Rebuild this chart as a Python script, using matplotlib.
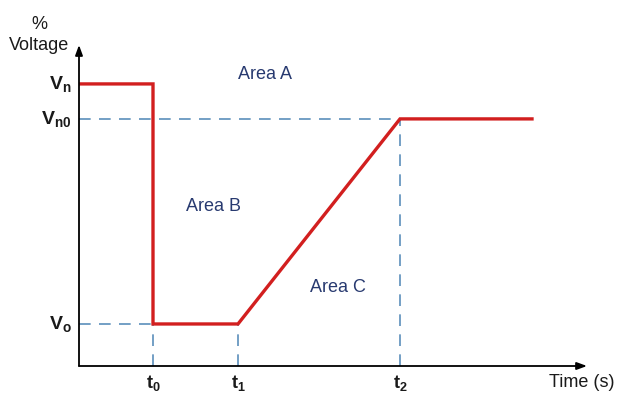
import matplotlib
matplotlib.use("Agg")
import matplotlib.pyplot as plt

plt.rcParams['font.family'] = ['Liberation Sans', 'DejaVu Sans']
plt.rcParams['mathtext.fontset'] = 'custom'
plt.rcParams['mathtext.bf'] = 'Liberation Sans:bold'
plt.rcParams['mathtext.rm'] = 'Liberation Sans'

# time instants (arbitrary units) and voltage levels (% of nominal)
t_start, t0, t1, t2, t_end = 0.0, 7.4, 15.9, 32.1, 45.3
v_n, v_n0, v_o = 100.0, 87.6, 14.9

profile_t = [t_start, t0, t0, t1, t2, t_end]
profile_v = [v_n, v_n, v_o, v_o, v_n0, v_n0]

x_ticks = [t0, t1, t2]
x_labels = [r'$\mathbf{t_0}$', r'$\mathbf{t_1}$', r'$\mathbf{t_2}$']
y_ticks = [v_n, v_n0, v_o]
y_labels = [r'$\mathbf{V_n}$', r'$\mathbf{V_{n0}}$', r'$\mathbf{V_o}$']

areas = ['Area A', 'Area B', 'Area C']
area_pos = [(18.6, 103.5), (13.4, 56.4), (25.9, 28.0)]

x_max, y_max = 50.8, 113.8

fig = plt.figure(figsize=(6.19, 3.94), dpi=100)
ax = fig.add_axes([79 / 619, 28 / 394, 508 / 619, 321 / 394])
ax.set_xlim(0, x_max)
ax.set_ylim(0, y_max)
ax.axis('off')

dash_col = '#5b8fbb'
dash = dict(color=dash_col, lw=1.2, dashes=(7, 5))
# guide lines
ax.plot([0, t2], [v_n0, v_n0], **dash)
ax.plot([0, t0], [v_o, v_o], **dash)
for t, v in [(t0, v_o), (t1, v_o), (t2, v_n0)]:
    ax.plot([t, t], [0, v], **dash)

# voltage profile
ax.plot(profile_t, profile_v, color='#d21f1f', lw=2.4, solid_joinstyle='miter', zorder=3)

# axes with arrows
arrow = dict(arrowstyle='-|>,head_length=0.6,head_width=0.22', color='black', lw=1.3,
             shrinkA=0, shrinkB=0)
ax.annotate('', xy=(x_max, 0), xytext=(0, 0), arrowprops=arrow, annotation_clip=False)
ax.annotate('', xy=(0, y_max), xytext=(0, 0), arrowprops=arrow, annotation_clip=False)

text_col = '#1a1a1a'
for t, lab in zip(x_ticks, x_labels):
    ax.text(t, -6.0, lab, ha='center', va='center', fontsize=13, color=text_col, clip_on=False)
for v, lab in zip(y_ticks, y_labels):
    ax.text(-0.7, v, lab, ha='right', va='center', fontsize=14, color=text_col, clip_on=False)

ax.text(-4.0, 117.2, '%\nVoltage', ha='center', va='center', fontsize=13,
        color=text_col, linespacing=1.3, clip_on=False)
ax.text(50.3, -6.0, 'Time (s)', ha='center', va='center', fontsize=13,
        color=text_col, clip_on=False)

for name, (x, y) in zip(areas, area_pos):
    ax.text(x, y, name, ha='center', va='center', fontsize=13, color='#283a70')

fig.savefig('out.png', dpi=100)
